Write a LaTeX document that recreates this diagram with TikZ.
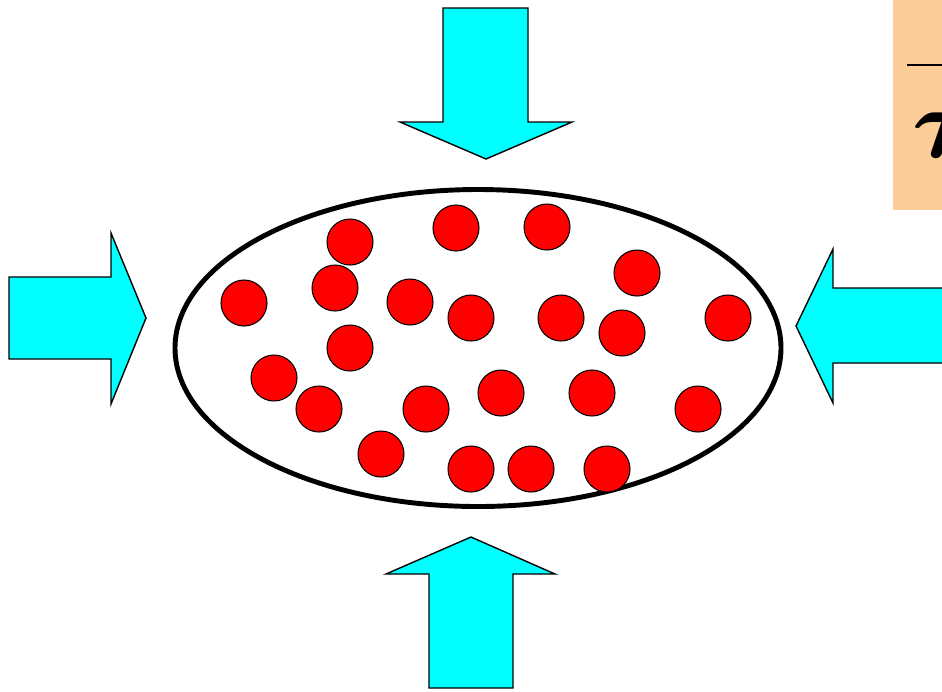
\documentclass[tikz,border=0pt]{standalone}
\usepackage{xcolor}
\usepackage{bm}
\usepackage{tikz}
\usetikzlibrary{positioning, shapes.geometric}
\definecolor{pushcyan}{RGB}{0,255,255}
\definecolor{molred}{RGB}{255,0,0}
\definecolor{peach}{RGB}{252,204,153}

\begin{document}
\begin{tikzpicture}[
  x=0.02cm, y=-0.02cm,
  push/.style={draw=black, fill=pushcyan, line width=0.8pt, line join=miter},
  wall/.style={ellipse, draw=black, line width=2.8pt, minimum width=606*0.02cm, minimum height=317*0.02cm, inner sep=0pt},
  mol/.style={circle, draw=black, fill=molred, line width=0.6pt, minimum size=46*0.02cm, inner sep=0pt},
  note/.style={fill=peach, draw=none}
]
\useasboundingbox (0,0) rectangle (942,691);
\clip (0,0) rectangle (942,691);

% container
\node[wall] (gas) at (478,348) {};

% molecules
\foreach \px/\py [count=\i] in {350/242, 456/228, 547/227, 637/273, 244/303, 335/288,
    410/302, 471/318, 561/318, 622/333, 728/318, 350/348, 274/378, 319/409,
    426/409, 501/393, 592/393, 698/409, 381/454, 471/469, 531/469, 607/469}
  \node[mol] (p\i) at (\px,\py) {};

% pushing arrows
\draw[push] (443,8) -- (528,8) -- (528,122) -- (572,122) -- (486,159) -- (400,122) -- (443,122) -- cycle;
\draw[push] (429,688) -- (513,688) -- (513,574) -- (555,574) -- (471,537) -- (386,574) -- (429,574) -- cycle;
\draw[push] (9,277) -- (111,277) -- (111,233) -- (146,318) -- (111,404) -- (111,359) -- (9,359) -- cycle;
\draw[push] (950,288) -- (833,288) -- (833,249) -- (796,326) -- (833,403) -- (833,363) -- (950,363);

% formula box (cut off at the edge)
\fill[note] (893,-5) rectangle (950,210);
\draw[line width=1.6pt] (907,65) -- (950,65);
\node[anchor=base west, inner sep=0pt, font=\Huge, scale=2.3, transform shape] (tau) at (912,157) {$\bm{\tau}$};

\end{tikzpicture}
\end{document}
